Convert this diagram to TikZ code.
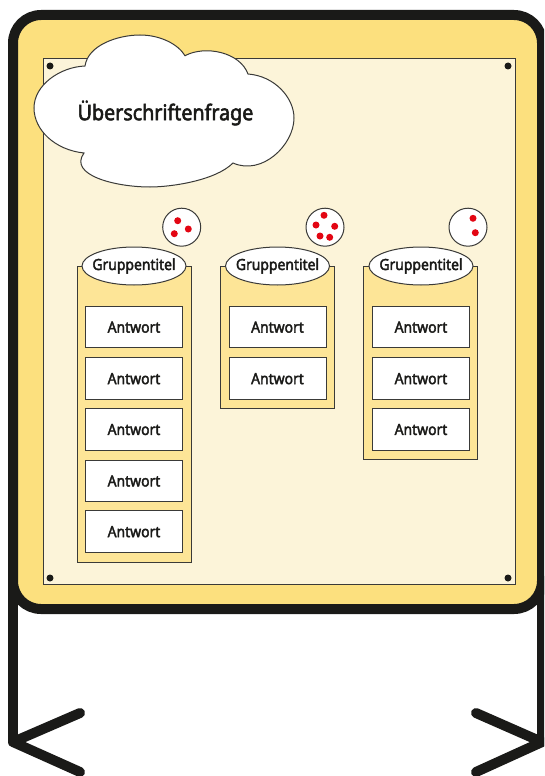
\documentclass[tikz,border=0pt]{standalone}
\usepackage{fontspec}
\setmainfont{Noto Sans}[FakeStretch=0.91,FakeBold=2.5]
\definecolor{ink}{HTML}{1A1A18}
\definecolor{frameyellow}{HTML}{FCE07E}
\definecolor{boardcream}{HTML}{FCF4D9}
\definecolor{groupyellow}{HTML}{FDE597}
\definecolor{dotred}{HTML}{E30613}
\definecolor{edgegray}{HTML}{3A3A38}
\usetikzlibrary{shapes.geometric}
\tikzset{
  frameline/.style={draw=ink,line width=10pt,line cap=round,line join=round},
  screw/.style={circle,fill=ink,inner sep=0pt,minimum size=7pt},
  vote/.style={circle,fill=dotred,inner sep=0pt,minimum size=7pt},
  votering/.style={circle,draw=edgegray,fill=white,line width=1pt,inner sep=0pt,minimum size=38pt},
  groupbox/.style={draw=edgegray,fill=groupyellow,line width=1pt},
  grouptitle/.style={ellipse,draw=edgegray,fill=white,line width=1pt,inner sep=0pt,minimum width=104pt,minimum height=38pt,font=\fontsize{15.3}{17}\selectfont,text=ink},
  answer/.style={rectangle,draw=edgegray,fill=white,line width=1pt,inner sep=0pt,minimum width=97pt,minimum height=41.5pt,font=\fontsize{15.3}{17}\selectfont,text=ink},
}
\begin{document}
\begin{tikzpicture}[x=1pt,y=-1pt]
\useasboundingbox (0,0) rectangle (544,776);
\clip (0,0) rectangle (544,776);
% stand legs
\draw[frameline] (13,580) -- (13,742);
\draw[frameline] (542,580) -- (542,742);
\draw[frameline] (80,713) -- (13,742) -- (80,772);
\draw[frameline] (476,713) -- (542,742) -- (476,772);
% frame and board
\draw[frameline,fill=frameyellow,rounded corners=28pt] (13,15) rectangle (542,609);
\draw[draw=edgegray,fill=boardcream,line width=1pt] (43.5,58.7) rectangle (515.5,584.7);
\node[screw] (s1) at (50,66) {};
\node[screw] (s2) at (508,66) {};
\node[screw] (s3) at (50,578) {};
\node[screw] (s4) at (508,578) {};
% cloud
\draw[draw=edgegray,fill=white,line width=1pt]
  (85,66) .. controls (88,45) and (118,35) .. (140,35) .. controls (160,35) and (178,44) .. (185,55.7)
  .. controls (205,45) and (240,52) .. (248,74)
  .. controls (275,76) and (294,98) .. (294,118) .. controls (294,145) and (262,176) .. (233,163)
  .. controls (215,181) and (170,187) .. (150,187) .. controls (115,187) and (68,175) .. (84,153)
  .. controls (55,150) and (34,130) .. (34,108) .. controls (34,85) and (60,67) .. (85,66) -- cycle;
\node[font=\fontsize{21.6}{25}\selectfont,text=ink] (title) at (165.5,113) {Überschriftenfrage};
% group boxes
\draw[groupbox] (77,266) rectangle (191,562);
\draw[groupbox] (220.5,266) rectangle (334.5,408);
\draw[groupbox] (363.5,266) rectangle (477.5,459);
\node[grouptitle] (g1) at (134,266) {\makebox[0pt]{Gruppentitel}};
\node[grouptitle] (g2) at (277.5,266) {\makebox[0pt]{Gruppentitel}};
\node[grouptitle] (g3) at (421,266) {\makebox[0pt]{Gruppentitel}};
% answers
\node[answer] (a11) at (134,327.2) {Antwort};
\node[answer] (a12) at (134,378.7) {Antwort};
\node[answer] (a13) at (134,429.5) {Antwort};
\node[answer] (a14) at (134,481) {Antwort};
\node[answer] (a15) at (134,531.7) {Antwort};
\node[answer] (a21) at (277.5,327.2) {Antwort};
\node[answer] (a22) at (277.5,378.7) {Antwort};
\node[answer] (a31) at (421,327.2) {Antwort};
\node[answer] (a32) at (421,378.7) {Antwort};
\node[answer] (a33) at (421,429.5) {Antwort};
% votes
\node[votering] (r1) at (181.7,227.2) {};
\node[votering] (r2) at (325,227.2) {};
\node[votering] (r3) at (468,227.2) {};
\node[vote] (v11) at (177.7,220.7) {};
\node[vote] (v12) at (188.3,229) {};
\node[vote] (v13) at (174.3,233.7) {};
\node[vote] (v21) at (324,215.3) {};
\node[vote] (v22) at (316,225) {};
\node[vote] (v23) at (334.7,226.3) {};
\node[vote] (v24) at (320,236) {};
\node[vote] (v25) at (329.7,237.3) {};
\node[vote] (v31) at (473,218.3) {};
\node[vote] (v32) at (475.3,232.7) {};
\end{tikzpicture}
\end{document}
